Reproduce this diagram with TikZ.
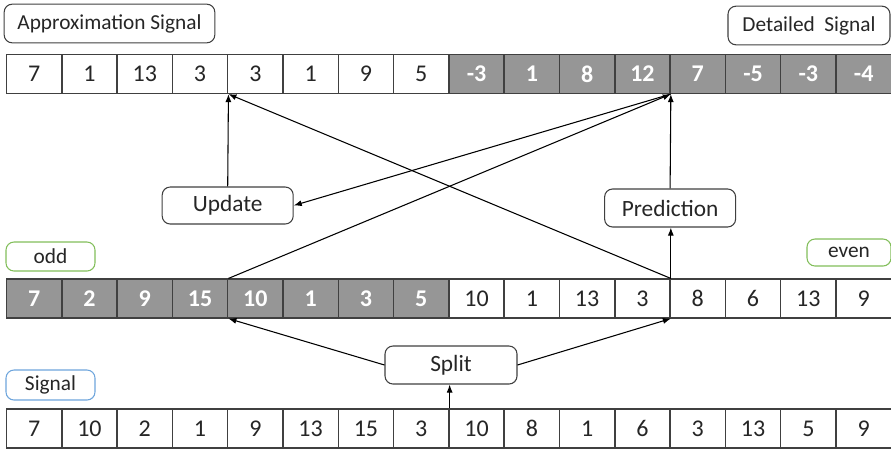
\documentclass[tikz,border=0pt]{standalone}
\usepackage{fontspec}
\setmainfont{Carlito}
\usetikzlibrary{arrows.meta}

\definecolor{cellgray}{RGB}{150,150,150}
\definecolor{linegray}{RGB}{64,64,64}
\definecolor{txt}{RGB}{38,38,38}
\definecolor{oddgreen}{RGB}{130,190,90}
\definecolor{sigblue}{RGB}{110,165,220}

\tikzset{
  cell/.style={draw=linegray, line width=1.1pt, fill=white, inner sep=0pt,
    minimum width=41.475pt, minimum height=29pt, text=txt,
    font=\fontsize{18}{20}\selectfont},
  dcell/.style={cell, fill=cellgray, text=white, font=\fontsize{18}{20}\selectfont\bfseries},
  tag/.style={draw=linegray, line width=0.8pt, rounded corners=6pt, fill=white,
    inner sep=0pt, text=txt, font=\fontsize{16}{18}\selectfont},
  proc/.style={tag, font=\fontsize{17.5}{19}\selectfont},
  arr/.style={draw=black, line width=0.8pt, -{Latex[length=6pt,width=4.5pt]}}
}

\begin{document}
\begin{tikzpicture}[x=0.75pt, y=-0.75pt]
\useasboundingbox (0,0) rectangle (891,451);

% top row: approximation (white) and detail (gray) coefficients
\foreach \v [count=\i] in {7,1,13,3,3,1,9,5}
  \node[cell] (t\i) at ({6.5+(\i-0.5)*55.3},74) {\v};
\foreach \v [count=\j] in {-3,1,8,12,7,-5,-3,-4} {
  \pgfmathtruncatemacro{\i}{\j+8}
  \node[dcell] (t\i) at ({6.5+(\i-0.5)*55.3},74) {\v};
}

% middle row: odd samples (gray) and even samples (white)
\foreach \v [count=\i] in {7,2,9,15,10,1,3,5}
  \node[dcell] (m\i) at ({6.5+(\i-0.5)*55.3},298.5) {\v};
\foreach \v [count=\j] in {10,1,13,3,8,6,13,9} {
  \pgfmathtruncatemacro{\i}{\j+8}
  \node[cell] (m\i) at ({6.5+(\i-0.5)*55.3},298.5) {\v};
}

% bottom row: input signal
\foreach \v [count=\i] in {7,10,2,1,9,13,15,3,10,8,1,6,3,13,5,9}
  \node[cell] (b\i) at ({6.5+(\i-0.5)*55.3},428.5) {\v};

% row captions
\node[tag, minimum width=158pt, minimum height=29pt] (approx) at (109.5,23.5) {Approximation Signal};
\node[tag, minimum width=121.5pt, minimum height=29pt] (detail) at (809,25.5) {Detailed\ \ Signal};
\node[tag, draw=oddgreen, minimum width=66.75pt, minimum height=21.75pt] (odd) at (50.5,256.5) {odd};
\node[tag, draw=oddgreen, minimum width=63pt, minimum height=20.25pt] (even) at (849,252.5) {even};
\node[tag, draw=sigblue, minimum width=66.75pt, minimum height=22.5pt] (sig) at (50.5,385) {Signal};

% lifting steps
\node[proc, minimum width=99pt, minimum height=28.5pt] (split) at (451,365) {Split};
\node[proc, minimum width=98.25pt, minimum height=27.75pt] (update) at (227.7,205.5) {Update};
\node[proc, minimum width=98.25pt, minimum height=28.5pt] (pred) at (670.1,208) {Prediction};

% connectors
\draw[arr] (b8.north east) -- (b8.north east |- split.south);
\draw[arr] (split.west) -- (m4.south east);
\draw[arr] (split.east) -- (m12.south east);
\draw[arr] (m12.north east) -- (m12.north east |- pred.south);
\draw[arr] (pred.north) -- (t12.south east);
\draw[arr] (m12.north east) -- (t4.south east);
\draw[arr] (m4.north east) -- (t12.south east);
\draw[arr] (t12.south east) -- (update.east);
\draw[arr] (update.north) -- (t4.south east);
\end{tikzpicture}
\end{document}
